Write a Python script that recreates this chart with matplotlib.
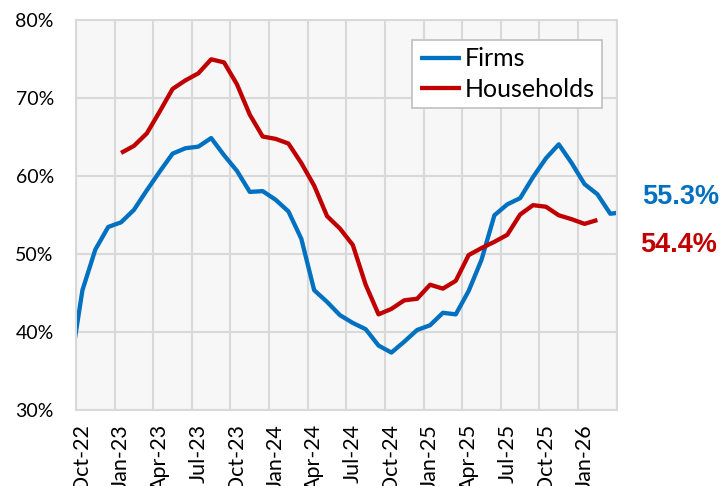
import matplotlib
matplotlib.use("Agg")
import matplotlib.pyplot as plt
import numpy as np

# Month index 0 = Oct-22
tick_labels = ["Oct-22", "Jan-23", "Apr-23", "Jul-23", "Oct-23", "Jan-24", "Apr-24",
               "Jul-24", "Oct-24", "Jan-25", "Apr-25", "Jul-25", "Oct-25", "Jan-26"]

# Firms: Sep-22 .. Apr-26
firms_start = -1
firms = [34.8, 45.4, 50.6, 53.5, 54.1, 55.7, 58.2, 60.6, 62.9, 63.6, 63.8, 64.9,
         62.7, 60.7, 58.0, 58.1, 57.0, 55.5, 52.0, 45.4, 43.9, 42.2, 41.2, 40.4,
         38.3, 37.4, 38.8, 40.3, 40.9, 42.5, 42.3, 45.3, 49.3, 55.0, 56.4, 57.2,
         59.9, 62.3, 64.1, 61.7, 59.0, 57.7, 55.2, 55.4]

# Households: Jan-23 .. Feb-26
households_start = 3
households = [63.0, 63.9, 65.5, 68.3, 71.2, 72.3, 73.2, 75.0, 74.6, 71.8, 67.9, 65.1,
              64.8, 64.2, 61.7, 58.8, 54.9, 53.3, 51.2, 46.1, 42.3, 43.0, 44.1, 44.3,
              46.1, 45.6, 46.6, 49.9, 50.8, 51.6, 52.5, 55.1, 56.3, 56.1, 55.0, 54.5,
              53.9, 54.4]

firms_label = "55.3%"
households_label = "54.4%"

n_months = 42
blue = "#0070C0"
red = "#C00000"
grid_c = "#D9D9D9"

plt.rcParams['font.family'] = ['Lato', 'DejaVu Sans']

fig = plt.figure(figsize=(7.2, 4.86), dpi=100)
ax = fig.add_axes([76/720, 1 - 410.3/486, (616.7 - 76)/720, (410.3 - 20.3)/486])
ax.set_facecolor("#F7F7F7")

xf = np.arange(len(firms)) + firms_start
xh = np.arange(len(households)) + households_start
ax.plot(xf, firms, color=blue, lw=3.1, label="Firms", solid_joinstyle="round", solid_capstyle="butt")
ax.plot(xh, households, color=red, lw=3.1, label="Households", solid_joinstyle="round", solid_capstyle="butt")

ax.set_xlim(-0.5, n_months - 0.5)
ax.set_ylim(30, 80)

ax.set_yticks(np.arange(30, 81, 10))
ax.set_yticklabels([f"{v}%" for v in range(30, 81, 10)], fontsize=14)
ax.set_xticks(np.arange(0, n_months, 3))
ax.set_xticklabels(tick_labels, rotation=90, fontsize=15.5)
ax.set_xticks(np.arange(-0.5, n_months, 3), minor=True)
ax.tick_params(axis='both', which='both', length=0, colors="#000000")
ax.tick_params(axis='x', pad=10)
ax.tick_params(axis='y', pad=16)

ax.grid(False)
ax.xaxis.grid(True, which='minor', color=grid_c, lw=1.5)
ax.yaxis.grid(True, which='major', color=grid_c, lw=1.5)
for s in ax.spines.values():
    s.set_color(grid_c)
    s.set_linewidth(1.5)

leg = ax.legend(loc="upper right", bbox_to_anchor=(602/720, 1 - 40/486),
                bbox_transform=fig.transFigure, fontsize=18, frameon=True,
                fancybox=False, edgecolor="#BFBFBF", framealpha=1,
                handlelength=1.65, handletextpad=0.15, borderpad=0.3, labelspacing=0.3,
                borderaxespad=0)
leg.get_frame().set_linewidth(1.2)

fig.text(642/720, 1 - 197/486, firms_label, color=blue, fontsize=19.5, fontweight="bold",
         family="Liberation Sans", va="center", ha="left")
fig.text(640/720, 1 - 245/486, households_label, color=red, fontsize=19.5, fontweight="bold",
         family="Liberation Sans", va="center", ha="left")

fig.savefig("out.png", dpi=100)
